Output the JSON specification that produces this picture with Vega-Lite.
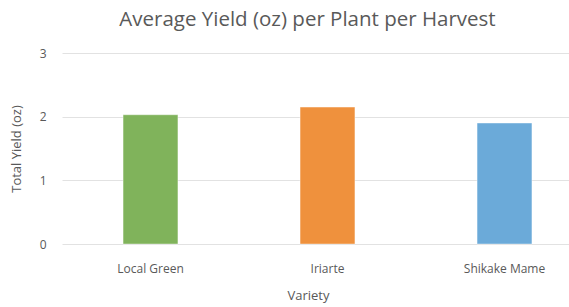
{
  "$schema": "https://vega.github.io/schema/vega-lite/v6.json",
  "autosize": "none",
  "padding": {"left": 62, "top": 53, "right": 0, "bottom": 63},
  "width": 531,
  "height": 191,
  "background": "white",
  "title": {
    "text": "Average Yield (oz) per Plant per Harvest",
    "font": "Open Sans",
    "fontSize": 20.5,
    "fontWeight": "normal",
    "color": "#595959",
    "anchor": "middle",
    "dx": -20,
    "offset": 17
  },
  "data": {
    "values": [
      {"variety": "Local Green", "yield": 2.03},
      {"variety": "Iriarte", "yield": 2.15},
      {"variety": "Shikake Mame", "yield": 1.9}
    ]
  },
  "mark": {"type": "bar", "stroke": "#ffffff", "strokeOpacity": 0.4, "strokeWidth": 1},
  "encoding": {
    "x": {
      "field": "variety",
      "type": "nominal",
      "sort": null,
      "title": "Variety",
      "scale": {"paddingInner": 0.69, "paddingOuter": 0.345},
      "axis": {
        "labelAngle": 0,
        "domain": false,
        "ticks": false,
        "labelPadding": 19,
        "labelFont": "Open Sans",
        "labelFontSize": 12,
        "labelColor": "#595959",
        "titleFont": "Open Sans",
        "titleFontSize": 13,
        "titleFontWeight": "normal",
        "titleColor": "#595959",
        "titlePadding": 15,
        "titleX": 246
      }
    },
    "y": {
      "field": "yield",
      "type": "quantitative",
      "title": "Total Yield (oz)",
      "scale": {"domain": [0, 3]},
      "axis": {
        "values": [0, 1, 2, 3],
        "domain": false,
        "ticks": false,
        "labelPadding": 16,
        "labelFont": "Open Sans",
        "labelFontSize": 12,
        "labelColor": "#595959",
        "gridColor": "#E2E2E2",
        "gridWidth": 1,
        "titleFont": "Open Sans",
        "titleFontSize": 13,
        "titleFontWeight": "normal",
        "titleColor": "#595959",
        "titlePadding": 16
      }
    },
    "color": {
      "field": "variety",
      "type": "nominal",
      "legend": null,
      "scale": {
        "domain": ["Local Green", "Iriarte", "Shikake Mame"],
        "range": ["#80B35B", "#EF913D", "#6BAAD9"]
      }
    }
  },
  "config": {"view": {"stroke": null}}
}
